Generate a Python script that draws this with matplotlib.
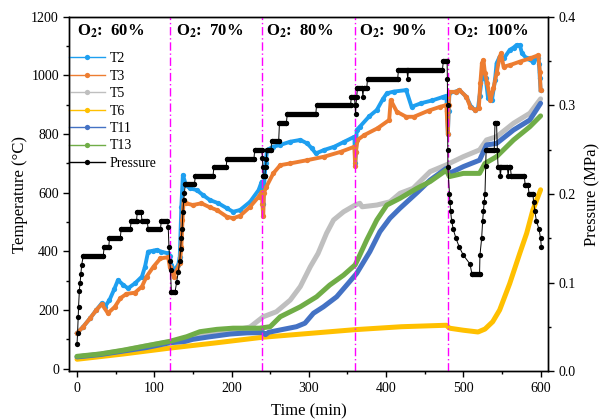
import matplotlib
matplotlib.use("Agg")
import matplotlib.pyplot as plt
from matplotlib.lines import Line2D
from matplotlib.ticker import MultipleLocator

plt.rcParams['font.family'] = ['Liberation Serif', 'DejaVu Serif']
plt.rcParams['mathtext.fontset'] = 'stix'

# ---------------- data ----------------
t2_time = [0, 8, 17, 25, 32, 36, 42, 48, 53, 60, 66, 75, 84, 88, 92, 98, 103, 109, 118, 120, 122, 126,
           131, 133, 135, 137, 141, 146, 155, 163, 172, 183, 194, 202, 211, 224, 235, 239, 240, 241, 242,
           244, 246, 254, 263, 276, 289, 298, 304, 309, 320, 333, 346, 359, 360, 361, 362, 366, 378, 388,
           396, 401, 410, 426, 433, 445, 460, 474, 478, 479, 480, 481, 482, 490, 495, 504, 510, 515, 519,
           521, 524, 526, 529, 532, 537, 541, 543, 547, 553, 560, 565, 569, 573, 576, 582, 590, 596, 598,
           599, 600]
t2_vals = [121, 143, 172, 200, 223, 211, 234, 270, 302, 285, 274, 291, 314, 348, 399, 402, 405, 399, 393,
           385, 354, 336, 354, 382, 552, 660, 626, 615, 609, 592, 575, 564, 547, 535, 541, 569, 609, 638,
           600, 560, 620, 700, 746, 757, 763, 774, 780, 768, 751, 734, 746, 757, 774, 791, 700, 740, 814,
           825, 860, 882, 920, 939, 945, 950, 893, 905, 915, 927, 930, 880, 800, 880, 940, 945, 950, 927,
           893, 882, 888, 930, 990, 1018, 990, 922, 916, 984, 1041, 1064, 1060, 1087, 1095, 1104, 1104,
           1075, 1058, 1047, 1060, 1040, 990, 950]

t3_time = [0, 8, 17, 25, 32, 40, 49, 56, 64, 75, 84, 90, 99, 108, 118, 120, 125, 129, 133, 135, 136.5,
           138, 141, 150, 161, 172, 181, 194, 202, 211, 224, 235, 239, 240, 241, 242, 245, 254, 263, 276,
           298, 320, 342, 359, 360, 361, 363, 372, 389, 404, 406, 414, 426, 436, 455, 470, 478, 480, 481,
           482, 490, 495, 504, 509, 515, 520, 522, 524, 526, 528, 531, 535, 539, 543, 547, 549, 552, 560,
           573, 586, 597, 599, 600]
t3_vals = [121, 143, 172, 200, 220, 189, 211, 240, 255, 259, 280, 314, 348, 376, 380, 348, 314, 336, 359,
           416, 507, 575, 564, 558, 564, 550, 541, 518, 513, 521, 552, 586, 603, 560, 520, 600, 620, 666,
           694, 700, 711, 723, 740, 757, 690, 740, 780, 797, 820, 848, 916, 876, 859, 859, 880, 893, 899,
           800, 900, 944, 944, 950, 927, 893, 882, 888, 973, 1041, 1052, 1007, 973, 916, 956, 1007, 1064,
           1075, 1030, 1035, 1047, 1058, 1069, 1013, 950]

t5_time = [0, 30, 60, 90, 120, 140, 160, 180, 198, 224, 241, 258, 276, 289, 302, 312, 323, 332, 345, 360,
           366, 369, 388, 405, 418, 435, 457, 478, 500, 521, 530, 543, 565, 586, 600]
t5_vals = [40, 50, 62, 78, 92, 97, 115, 122, 128, 142, 177, 194, 234, 280, 348, 393, 462, 507, 535, 558,
           564, 552, 558, 569, 598, 615, 672, 695, 723, 746, 780, 791, 837, 871, 920]

t6_time = [0, 60, 120, 180, 240, 300, 360, 420, 478, 482, 500, 519, 528, 538, 547, 560, 573, 582, 590, 600]
t6_vals = [32, 50, 70, 88, 107, 120, 133, 143, 148, 138, 131, 125, 135, 160, 200, 290, 393, 462, 541, 610]

t11_time = [0, 30, 60, 90, 120, 140, 150, 170, 198, 220, 241, 244, 248, 263, 284, 295, 306, 319, 336,
            351, 362, 379, 392, 405, 418, 440, 457, 478, 482, 500, 521, 530, 543, 565, 586, 600]
t11_vals = [40, 48, 60, 72, 88, 93, 100, 108, 118, 122, 123, 116, 124, 132, 143, 155, 189, 211, 245, 291,
            325, 399, 467, 513, 547, 600, 643, 683, 666, 689, 711, 763, 768, 814, 848, 905]

t13_time = [0, 30, 60, 90, 120, 142, 159, 181, 202, 236, 250, 263, 289, 310, 327, 345, 360, 364, 375, 388,
            401, 418, 440, 457, 478, 482, 500, 521, 528, 543, 565, 586, 600]
t13_vals = [42, 50, 63, 78, 93, 109, 126, 134, 138, 138, 143, 177, 211, 245, 285, 319, 354, 376, 439, 507,
            558, 581, 615, 638, 677, 655, 666, 666, 700, 723, 780, 825, 862]

p_time = [0, 0.7, 1.4, 2, 3, 4, 5, 6, 8, 34, 35, 41, 42, 56, 57, 69, 70, 77, 78, 83, 84, 91, 92, 108, 109,
          117, 118, 119, 120, 121, 122, 127, 129, 131, 133, 134, 135, 136, 137, 138, 139, 140, 152, 153, 176,
          177, 193, 194, 229, 230, 239, 240, 240.5, 241, 243, 244, 245, 246, 251, 252, 261, 262, 271, 272,
          309, 310, 354, 355, 359, 360, 360.5, 361, 362, 363, 369, 370, 371, 375, 376, 415, 416, 427, 428,
          429, 473, 474, 479, 479.3, 479.6, 479.8, 480, 482, 482.7, 483.5, 484.8, 487, 490.5, 494.8, 500,
          508.7, 511, 521, 521.5, 523.7, 525, 526, 527, 528, 529, 529.5, 540, 541, 543, 544, 545, 547, 548,
          549, 557, 558, 559, 561, 562, 579, 580, 584, 585, 590, 591, 592.5, 594.5, 598, 600, 601]
p_vals = [0.031, 0.043, 0.061, 0.073, 0.091, 0.100, 0.110, 0.120, 0.130, 0.130, 0.140, 0.140, 0.150,
          0.150, 0.160, 0.160, 0.170, 0.170, 0.180, 0.180, 0.170, 0.170, 0.160, 0.160, 0.170, 0.170, 0.163,
          0.140, 0.125, 0.114, 0.090, 0.090, 0.101, 0.112, 0.125, 0.138, 0.150, 0.160, 0.180, 0.193, 0.201,
          0.211, 0.211, 0.220, 0.220, 0.230, 0.230, 0.240, 0.240, 0.250, 0.250, 0.241, 0.230, 0.220, 0.220,
          0.230, 0.240, 0.250, 0.250, 0.260, 0.260, 0.280, 0.280, 0.290, 0.290, 0.300, 0.300, 0.310, 0.310,
          0.300, 0.290, 0.300, 0.310, 0.320, 0.320, 0.310, 0.320, 0.320, 0.330, 0.330, 0.340, 0.340, 0.330,
          0.340, 0.340, 0.350, 0.350, 0.330, 0.300, 0.250, 0.230, 0.200, 0.191, 0.181, 0.170, 0.160, 0.150,
          0.140, 0.131, 0.121, 0.110, 0.110, 0.131, 0.150, 0.170, 0.181, 0.191, 0.200, 0.232, 0.250, 0.250,
          0.280, 0.280, 0.250, 0.230, 0.230, 0.220, 0.230, 0.230, 0.220, 0.230, 0.230, 0.220, 0.220, 0.210,
          0.210, 0.200, 0.200, 0.191, 0.181, 0.170, 0.160, 0.150, 0.140]

o2_labels = ["60%", "70%", "80%", "90%", "100%"]
o2_label_x = [0, 128, 245, 365, 487]
o2_switch = [120, 240, 360, 480]

series = [("T2", t2_time, t2_vals, "#1E9FF0"),
          ("T3", t3_time, t3_vals, "#ED7D31"),
          ("T5", t5_time, t5_vals, "#BFBFBF"),
          ("T6", t6_time, t6_vals, "#FFC000"),
          ("T11", t11_time, t11_vals, "#4472C4"),
          ("T13", t13_time, t13_vals, "#70AD47")]

# ---------------- figure ----------------
fig = plt.figure(figsize=(5.99, 4.20), dpi=100)
ax = fig.add_axes([0.1157, 0.116, 0.7997, 0.844])
ax2 = ax.twinx()

for name, tt, vv, col in series:
    if name in ("T2", "T3"):
        ax.plot(tt, vv, color=col, lw=2.8, marker='o', ms=3.8, mew=0, zorder=3)
    else:
        ax.plot(tt, vv, color=col, lw=3.6, solid_capstyle='round', zorder=3)

for x in o2_switch:
    ax.axvline(x, color='#FF00FF', lw=1.0, ls=(0, (6, 2, 1, 2)), zorder=5)

# pressure
ax2.plot(p_time, p_vals, color='black', lw=0.7, marker='o', ms=3.8, mew=0, zorder=4)
for i in range(len(p_time) - 1):
    if p_vals[i] == p_vals[i + 1]:
        ax2.plot([p_time[i], p_time[i + 1]], [p_vals[i], p_vals[i + 1]], color='black',
                 lw=3.8, solid_capstyle='round', zorder=4)

for lab, x in zip(o2_labels, o2_label_x):
    ax.text(x, 1150, r"O$_\mathbf{2}$:  " + lab, fontsize=12, fontweight='bold',
            va='center', ha='left', zorder=6)

ax.set_xlim(-10, 610)
ax.set_ylim(-9, 1200)
ax2.set_ylim(0, 0.4)

ax.xaxis.set_major_locator(MultipleLocator(100))
ax.xaxis.set_minor_locator(MultipleLocator(50))
ax.yaxis.set_major_locator(MultipleLocator(200))
ax.yaxis.set_minor_locator(MultipleLocator(100))
ax2.yaxis.set_major_locator(MultipleLocator(0.1))
ax2.yaxis.set_minor_locator(MultipleLocator(0.05))

for a in (ax, ax2):
    a.tick_params(which='major', direction='out', length=4, width=1, labelsize=10)
    a.tick_params(which='minor', direction='out', length=2.5, width=1)
    for s in a.spines.values():
        s.set_linewidth(1.0)
ax.tick_params(axis='y', right=False)

ax.set_xlabel("Time (min)", fontsize=12, labelpad=6.5)
ax.set_ylabel("Temperature (\u00b0C)", fontsize=12, labelpad=2)
ax2.set_ylabel("Pressure (MPa)", fontsize=12, labelpad=6)

handles = []
for name, tt, vv, col in series:
    handles.append(Line2D([0], [0], color=col, lw=1.0, marker='o', ms=3.8, mew=0, label=name))
handles.append(Line2D([0], [0], color='black', lw=1.0, marker='o', ms=3.8, mew=0, label="Pressure"))
ax.legend(handles=handles, loc='upper left', bbox_to_anchor=(0.0, 0.9), frameon=False,
          fontsize=10, handlelength=2.6, handletextpad=0.3, labelspacing=0.32,
          borderpad=0, borderaxespad=0)

fig.savefig("out.png", dpi=100)
